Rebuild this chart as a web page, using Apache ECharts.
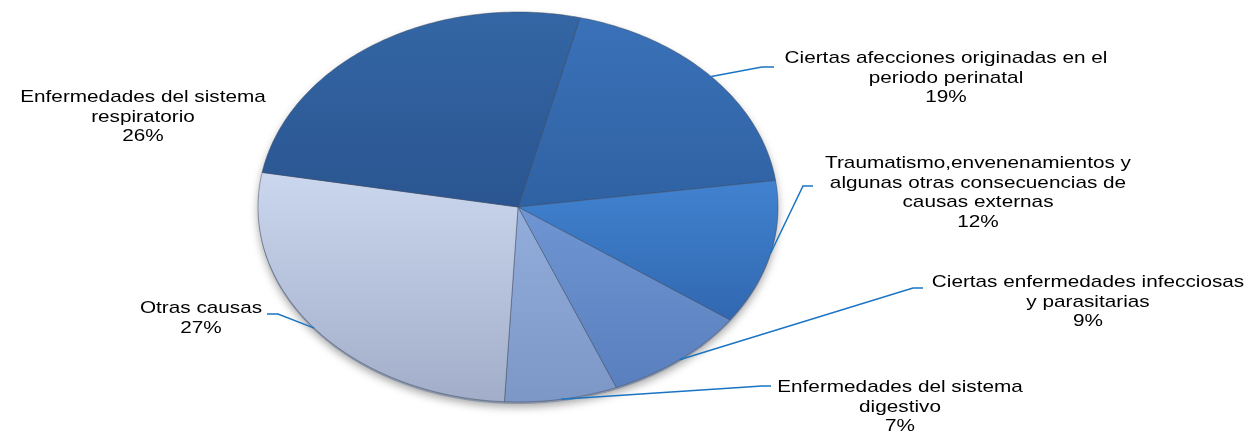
<!DOCTYPE html>
<html>
<head>
<meta charset="utf-8">
<script src="https://cdn.jsdelivr.net/npm/echarts@6/dist/echarts.min.js"></script>
<style>
  html, body { margin: 0; padding: 0; background: #fff; }
  #main { width: 1258px; height: 434px; }
</style>
</head>
<body>
<div id="main"></div>
<script>
// data (percent of deaths)
const categories = [
  'Ciertas afecciones originadas en el\nperiodo perinatal',
  'Traumatismo,envenenamientos y\nalgunas otras consecuencias de\ncausas externas',
  'Ciertas enfermedades infecciosas\ny parasitarias',
  'Enfermedades del sistema\ndigestivo',
  'Otras causas',
  'Enfermedades del sistema\nrespiratorio'
];
const values = [19, 12, 9, 7, 27, 26];

// colours per slice: top / bottom of the gradient
const colorsTop = ['#3a71b8', '#4182d0', '#6f95d2', '#93aedb', '#cbd7ee', '#3466a5'];
const colorsBottom = ['#2f62a3', '#3168b0', '#5a7fbe', '#7c96c6', '#a2aec9', '#2a5590'];

// layout of the (flattened) pie and its labels
const cx = 518, cy = 207, rx = 260, ry = 195;
const startDeg = 13.8;
// tx/ty: label centre / top, elbow and end of the leader line
const labelLayout = [
  { tx: 946, ty: 49, ex: 762, ey: 67, hx: 774 },
  { tx: 978, ty: 154, ex: 803, ey: 186, hx: 813 },
  { tx: 1088, ty: 273, ex: 913, ey: 288, hx: 923 },
  { tx: 900, ty: 378, ex: 762, ey: 386, hx: 771 },
  { tx: 201, ty: 299, ex: 278, ey: 314, hx: 267 },
  { tx: 143, ty: 88, ex: null }
];

const total = values.reduce((a, b) => a + b, 0);
const startAngles = [];
let acc = startDeg;
values.forEach(v => { startAngles.push(acc); acc += v / total * 360; });

function pt(deg) {
  const t = deg * Math.PI / 180;
  return [cx + rx * Math.sin(t), cy - ry * Math.cos(t)];
}

let myChart = echarts.init(document.getElementById('main'), null, { renderer: 'canvas' });

let option = {
  animation: false,
  backgroundColor: '#fff',
  series: [{
    type: 'custom',
    coordinateSystem: 'none',
    data: values,
    renderItem: function (params, api) {
      const i = params.dataIndex;
      const v = api.value(0);
      const a0 = startAngles[i];
      const a1 = a0 + v / total * 360;
      const pts = [[cx, cy]];
      const steps = Math.max(4, Math.ceil(a1 - a0));
      for (let k = 0; k <= steps; k++) pts.push(pt(a0 + (a1 - a0) * k / steps));
      const children = [];
      if (i === 0) {
        // soft shadow under the whole pie
        children.push({
          type: 'ellipse',
          shape: { cx: cx, cy: cy + 2, rx: rx, ry: ry },
          style: { fill: '#8a94a8', shadowBlur: 8, shadowColor: 'rgba(0,0,0,0.35)', shadowOffsetY: 3 }
        });
      }
      children.push({
        type: 'polygon',
        shape: { points: pts },
        style: {
          fill: new echarts.graphic.LinearGradient(0, 0, 0, 1, [
            { offset: 0, color: colorsTop[i] },
            { offset: 1, color: colorsBottom[i] }
          ]),
          stroke: 'rgba(60,70,90,0.45)',
          lineWidth: 1
        }
      });
      const lay = labelLayout[i];
      const mid = pt((a0 + a1) / 2);
      if (lay.ex !== null) {
        children.push({
          type: 'polyline',
          shape: { points: [mid, [lay.ex, lay.ey], [lay.hx, lay.ey]] },
          style: { stroke: '#1a74c4', lineWidth: 1.5, fill: null }
        });
      }
      // text in the original is stretched sideways
      children.push({
        type: 'text',
        x: lay.tx,
        y: lay.ty,
        scaleX: 1.22,
        style: {
          text: categories[i] + '\n' + Math.round(v / total * 100) + '%',
          x: 0,
          y: 0,
          textAlign: 'center',
          align: 'center',
          textVerticalAlign: 'top',
          verticalAlign: 'top',
          fontFamily: '"Liberation Sans", Arial, sans-serif',
          fontSize: 17,
          lineHeight: 19.5,
          fill: '#000'
        }
      });
      return { type: 'group', children: children };
    }
  }]
};

myChart.setOption(option);
</script>
</body>
</html>
